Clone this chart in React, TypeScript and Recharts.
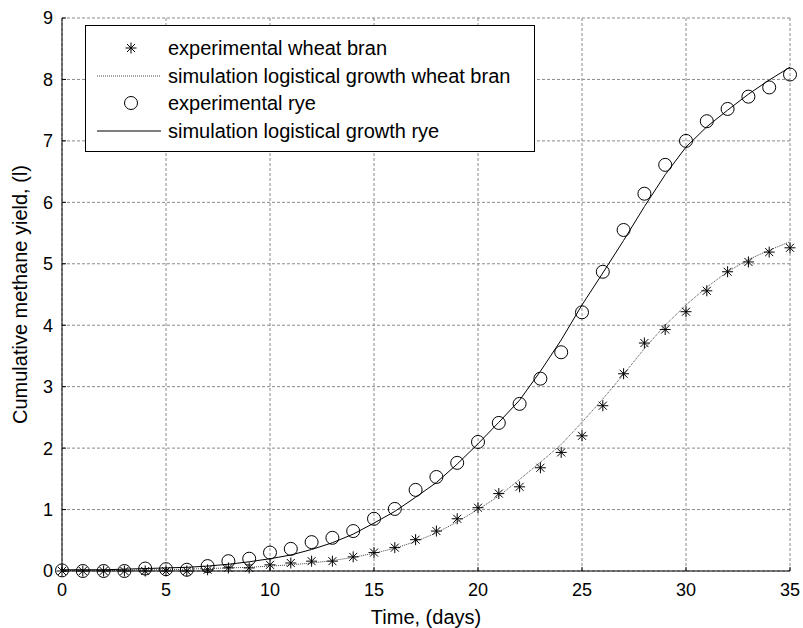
import React from "react";
import { ComposedChart, Line, XAxis, YAxis, CartesianGrid, Legend } from "recharts";

const days = [
  0, 1, 2, 3, 4, 5, 6, 7, 8, 9, 10, 11, 12, 13, 14, 15, 16, 17,
  18, 19, 20, 21, 22, 23, 24, 25, 26, 27, 28, 29, 30, 31, 32, 33, 34, 35,
];

const wheatExperimental = [
  0, 0, 0, 0, 0, 0, 0, 0.02, 0.05, 0.05, 0.1, 0.13, 0.16, 0.16, 0.23, 0.3, 0.38, 0.51,
  0.65, 0.85, 1.03, 1.26, 1.37, 1.68, 1.93, 2.2, 2.69, 3.21, 3.71, 3.93, 4.22, 4.56, 4.87, 5.03, 5.19, 5.26,
];

const wheatSimulation = [
  0.01, 0.01, 0.01, 0.01, 0.02, 0.02, 0.03, 0.04, 0.05, 0.06, 0.08, 0.1, 0.13, 0.17, 0.22, 0.29, 0.37, 0.48,
  0.62, 0.8, 1.0, 1.22, 1.49, 1.77, 2.06, 2.42, 2.8, 3.2, 3.62, 4.0, 4.33, 4.62, 4.87, 5.07, 5.22, 5.36,
];

const ryeExperimental = [
  0.01, 0, 0, 0, 0.04, 0.03, 0.02, 0.08, 0.16, 0.2, 0.3, 0.36, 0.47, 0.54, 0.65, 0.85, 1.01, 1.32,
  1.53, 1.76, 2.1, 2.41, 2.72, 3.13, 3.56, 4.21, 4.87, 5.55, 6.14, 6.61, 7.0, 7.32, 7.52, 7.72, 7.87, 8.08,
];

const ryeSimulation = [
  0.02, 0.02, 0.02, 0.03, 0.04, 0.05, 0.06, 0.08, 0.11, 0.15, 0.2, 0.26, 0.35, 0.46, 0.6, 0.78, 0.97, 1.2,
  1.44, 1.74, 2.07, 2.42, 2.78, 3.25, 3.76, 4.33, 4.85, 5.38, 5.93, 6.45, 6.9, 7.23, 7.5, 7.76, 7.99, 8.2,
];

const xTicks = [0, 5, 10, 15, 20, 25, 30, 35];
const yTicks = [0, 1, 2, 3, 4, 5, 6, 7, 8, 9];

const legendItems = [
  { label: "experimental wheat bran", kind: "star" },
  { label: "simulation logistical growth wheat bran", kind: "dotted" },
  { label: "experimental rye", kind: "circle" },
  { label: "simulation logistical growth rye", kind: "solid" },
];

const FONT = '"Liberation Sans", Arial, Helvetica, sans-serif';

const rows = days.map((d, i) => ({
  day: d,
  wheatExp: wheatExperimental[i],
  wheatSim: wheatSimulation[i],
  ryeExp: ryeExperimental[i],
  ryeSim: ryeSimulation[i],
}));

const noLabel = () => "";

function Asterisk({ cx, cy }: { cx?: number; cy?: number }) {
  if (cx == null || cy == null) return null;
  const r = 5.5;
  const d = 4;
  return (
    <g stroke="#000" strokeWidth={1}>
      <line x1={cx - r} y1={cy} x2={cx + r} y2={cy} />
      <line x1={cx} y1={cy - r} x2={cx} y2={cy + r} />
      <line x1={cx - d} y1={cy - d} x2={cx + d} y2={cy + d} />
      <line x1={cx - d} y1={cy + d} x2={cx + d} y2={cy - d} />
    </g>
  );
}

function Ring({ cx, cy }: { cx?: number; cy?: number }) {
  if (cx == null || cy == null) return null;
  return <circle cx={cx} cy={cy} r={6.5} fill="none" stroke="#000" strokeWidth={1} />;
}

function LegendBox() {
  return (
    <div
      style={{
        width: 450,
        height: 127,
        boxSizing: "border-box",
        border: "1px solid #000",
        background: "#fff",
        paddingTop: 8,
        fontFamily: FONT,
        fontSize: 20,
        color: "#000",
      }}
    >
      {legendItems.map((item) => (
        <div key={item.label} style={{ position: "relative", height: 27.5 }}>
          <svg width={80} height={28} style={{ position: "absolute", left: 0, top: 0 }}>
            {item.kind === "star" && <Asterisk cx={45} cy={14} />}
            {item.kind === "circle" && <Ring cx={45} cy={14} />}
            {item.kind === "dotted" && (
              <line x1={11} y1={14} x2={75} y2={14} stroke="#444" strokeDasharray="1 1" />
            )}
            {item.kind === "solid" && <line x1={11} y1={14} x2={75} y2={14} stroke="#000" />}
          </svg>
          <span
            style={{
              position: "absolute",
              left: 82,
              top: 0,
              lineHeight: "28px",
              whiteSpace: "nowrap",
            }}
          >
            {item.label}
          </span>
        </div>
      ))}
    </div>
  );
}

function YTitle(props: any) {
  const vb = props.viewBox || {};
  const cx = (vb.x ?? 0) + 20;
  const cy = (vb.y ?? 0) + (vb.height ?? 0) / 2;
  return (
    <text
      x={cx}
      y={cy}
      transform={`rotate(-90 ${cx} ${cy})`}
      textAnchor="middle"
      dominantBaseline="central"
      fontFamily={FONT}
      fontSize={20}
      fill="#000"
    >
      Cumulative methane yield, (l)
    </text>
  );
}

export default function App() {
  const tickStyle = { fill: "#000", fontSize: 18, fontFamily: FONT };
  return (
    <div style={{ position: "absolute", left: 0, top: 0, width: 803, height: 628, background: "#fff" }}>
      <ComposedChart
        width={803}
        height={628}
        data={rows}
        margin={{ top: 18, right: 13, bottom: 0, left: 0 }}
      >
        <CartesianGrid stroke="#8a8a8a" strokeDasharray="3 2" />
        <XAxis
          dataKey="day"
          type="number"
          domain={[0, 35]}
          ticks={xTicks}
          height={57}
          tickSize={-4}
          tickMargin={16}
          tick={tickStyle}
          stroke="#000"
          label={{
            value: "Time, (days)",
            position: "insideBottom",
            offset: 4,
            fill: "#000",
            fontSize: 20,
            fontFamily: FONT,
          }}
        />
        <XAxis
          xAxisId="top"
          orientation="top"
          dataKey="day"
          type="number"
          domain={[0, 35]}
          ticks={xTicks}
          height={0}
          tickSize={-4}
          tickFormatter={noLabel}
          stroke="#000"
        />
        <YAxis
          type="number"
          domain={[0, 9]}
          ticks={yTicks}
          width={62}
          tickSize={-4}
          tickMargin={13}
          tick={tickStyle}
          stroke="#000"
          label={<YTitle />}
        />
        <YAxis
          yAxisId="right"
          orientation="right"
          type="number"
          domain={[0, 9]}
          ticks={yTicks}
          width={0}
          tickSize={-4}
          tickFormatter={noLabel}
          stroke="#000"
        />
        <Legend
          content={<LegendBox />}
          layout="horizontal"
          verticalAlign="middle"
          align="center"
          wrapperStyle={{ left: 85, top: 25, width: 450, height: 127 }}
        />
        <Line
          dataKey="wheatSim"
          stroke="#444"
          strokeWidth={1}
          strokeDasharray="1 1"
          dot={false}
          activeDot={false}
          isAnimationActive={false}
        />
        <Line
          dataKey="ryeSim"
          stroke="#000"
          strokeWidth={1}
          dot={false}
          activeDot={false}
          isAnimationActive={false}
        />
        <Line
          dataKey="wheatExp"
          stroke="none"
          dot={(p: any) => <Asterisk key={`w-${p.index}`} cx={p.cx} cy={p.cy} />}
          activeDot={false}
          isAnimationActive={false}
        />
        <Line
          dataKey="ryeExp"
          stroke="none"
          dot={(p: any) => <Ring key={`r-${p.index}`} cx={p.cx} cy={p.cy} />}
          activeDot={false}
          isAnimationActive={false}
        />
      </ComposedChart>
    </div>
  );
}
